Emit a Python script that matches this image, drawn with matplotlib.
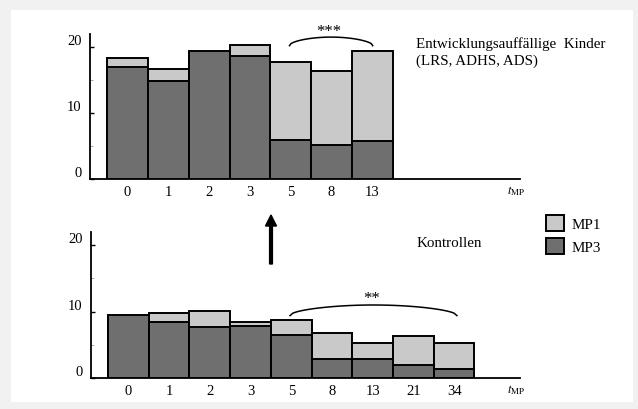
import numpy as np
import matplotlib
matplotlib.use("Agg")
import matplotlib.pyplot as plt
from matplotlib.patches import Rectangle, Patch

plt.rcParams['font.family'] = ['Liberation Serif', 'DejaVu Serif']
plt.rcParams['mathtext.fontset'] = 'stix'

# data
top_labels = ['0', '1', '2', '3', '5', '8', '13']
top_mp1 = [18.4, 16.7, 19.0, 20.3, 17.8, 16.4, 19.4]
top_mp3 = [17.0, 14.9, 19.4, 18.6, 5.9, 5.2, 5.8]

bot_labels = ['0', '1', '2', '3', '5', '8', '13', '21', '34']
bot_mp1 = [9.2, 9.8, 10.1, 8.4, 8.8, 6.8, 5.2, 6.3, 5.2]
bot_mp3 = [9.5, 8.5, 7.7, 7.9, 6.5, 2.8, 2.8, 2.0, 1.4]

light = '#c9c9c9'
dark = '#6f6f6f'

W, H = 638, 410
fig = plt.figure(figsize=(W / 100, H / 100), dpi=100, facecolor='#f1f1f1')
fig.patches.append(Rectangle((11 / W, 7 / H), 622 / W, 392 / H, transform=fig.transFigure,
                             facecolor='white', edgecolor='none', zorder=-10))


def px(x0, y0, x1, y1):
    # pixel box (left, top, right, bottom) -> figure fraction
    return [x0 / W, 1 - y1 / H, (x1 - x0) / W, (y1 - y0) / H]


def panel(ax, labels, mp1, mp3):
    x = np.arange(len(labels))
    ax.bar(x, mp1, width=1.0, color=light, edgecolor='black', linewidth=1.4, zorder=2)
    ax.bar(x, mp3, width=1.0, color=dark, edgecolor='black', linewidth=1.4, zorder=3)
    ax.set_xlim(-0.92, 9.62)
    ax.set_ylim(0, 22)
    ax.set_facecolor('none')
    for s in ['top', 'right']:
        ax.spines[s].set_visible(False)
    ax.spines['left'].set_linewidth(1.3)
    ax.spines['bottom'].set_linewidth(1.3)
    ax.set_xticks(x)
    ax.set_xticklabels(labels)
    ax.set_yticks([0, 10, 20])
    ax.set_yticks([5, 15], minor=True)
    ax.tick_params(axis='x', length=0, pad=4, labelsize=10.5)
    ax.tick_params(axis='y', which='major', direction='in', length=3, width=1, pad=6, labelsize=10.5)
    ax.tick_params(axis='y', which='minor', direction='in', length=2, width=0.6, color='#999999')
    plt.setp(ax.get_yticklabels(), va='bottom')
    ax.text(9.3, -0.6, r'$t_{\mathrm{MP}}$', fontsize=9, ha='left', va='top')


def bracket(ax, x0, x1, y0, h, label, ty):
    t = np.linspace(0, 1, 60)
    xs = x0 + (x1 - x0) * t
    ys = y0 + h * np.sin(np.pi * t) ** 0.5
    ax.plot(xs, ys, color='black', lw=1.1, clip_on=False)
    ax.text((x0 + x1) / 2 - 0.05, ty, label, ha='center', va='center', fontsize=12, clip_on=False)


ax1 = fig.add_axes(px(90, 34.8, 520, 180))
panel(ax1, top_labels, top_mp1, top_mp3)
bracket(ax1, 3.97, 6.01, 20.2, 1.3, '***', 22.4)
ax1.text(7.07, 21.6, 'Entwicklungsauffällige  Kinder\n(LRS, ADHS, ADS)', fontsize=10.8,
         ha='left', va='top', linespacing=1.3, clip_on=False)

ax2 = fig.add_axes(px(91, 233, 520, 379))
panel(ax2, bot_labels, bot_mp1, bot_mp3)
bracket(ax2, 3.97, 8.07, 9.4, 1.6, '**', 12.0)
ax2.text(7.07, 20.4, 'Kontrollen', fontsize=10.8, ha='left', va='center', clip_on=False)

# arrow between panels
fig.patches.append(matplotlib.patches.FancyArrow(
    271 / W, 1 - 265 / H, 0, 49 / H, width=1.8 / H, head_width=11 / W, head_length=11 / H,
    length_includes_head=True, color='black', transform=fig.transFigure))

handles = [Patch(facecolor=light, edgecolor='black', linewidth=1.4),
           Patch(facecolor=dark, edgecolor='black', linewidth=1.4)]
fig.legend(handles, ['MP1', 'MP3'], loc='upper left', bbox_to_anchor=(546 / W, 1 - 216 / H),
           frameon=False, fontsize=10.8, handlelength=1.2, handleheight=1.3,
           handletextpad=0.5, labelspacing=0.45, borderpad=0, borderaxespad=0)

fig.savefig('out.png', dpi=100, facecolor=fig.get_facecolor())
